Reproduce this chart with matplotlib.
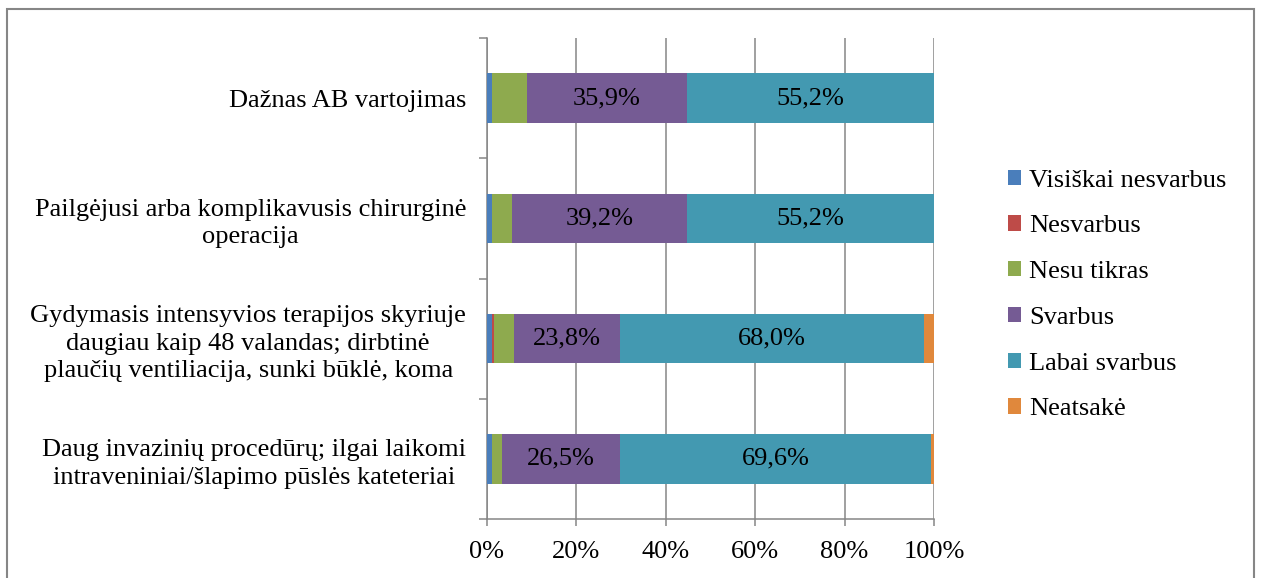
import matplotlib
matplotlib.use("Agg")
import matplotlib.pyplot as plt
from matplotlib.patches import Rectangle
import numpy as np

plt.rcParams['font.family'] = ['Liberation Serif', 'DejaVu Serif']

categories = [
    "Dažnas AB vartojimas",
    "Pailgėjusi arba komplikavusis chirurginė\noperacija",
    "Gydymasis intensyvios terapijos skyriuje\ndaugiau kaip 48 valandas; dirbtinė\nplaučių ventiliacija, sunki būklė, koma",
    "Daug invazinių procedūrų; ilgai laikomi\nintraveniniai/šlapimo pūslės kateteriai",
]
series_names = ["Visiškai nesvarbus", "Nesvarbus", "Nesu tikras", "Svarbus", "Labai svarbus", "Neatsakė"]
visiskai_nesvarbus = [1.1, 1.1, 1.2, 1.1]
nesvarbus = [0.0, 0.0, 0.3, 0.0]
nesu_tikras = [7.8, 4.5, 4.5, 2.2]
svarbus = [35.9, 39.2, 23.8, 26.5]
labai_svarbus = [55.2, 55.2, 68.0, 69.6]
neatsake = [0.0, 0.0, 2.2, 0.6]
xticks = [0, 20, 40, 60, 80, 100]
xticklabels = ["0%", "20%", "40%", "60%", "80%", "100%"]

colors = ["#4A7EBB", "#BE4B48", "#8EAA4E", "#755B94", "#4399B1", "#E0883C"]
series = [visiskai_nesvarbus, nesvarbus, nesu_tikras, svarbus, labai_svarbus, neatsake]
labelled = {3, 4}

fig = plt.figure(figsize=(12.61, 5.78), dpi=100)
ax = fig.add_axes([487/1261, 1 - 519/578, (934-487)/1261, (519-38)/578])

y = np.arange(len(categories))
left = np.zeros(len(categories))
handles = []
for i, (name, vals, c) in enumerate(zip(series_names, series, colors)):
    vals = np.array(vals, dtype=float)
    b = ax.barh(y, vals, left=left, height=0.41, color=c, edgecolor='none', label=name, zorder=3)
    handles.append(b)
    if i in labelled:
        for yi, (l, v) in enumerate(zip(left, vals)):
            ax.text(l + v/2, yi, f"{v:.1f}".replace('.', ',') + "%", ha='center', va='center',
                    fontsize=19, color='black', zorder=4)
    left = left + vals

ax.set_xlim(0, 100)
ax.set_ylim(len(categories) - 0.5, -0.5)
ax.set_xticks(xticks)
ax.set_xticklabels(xticklabels, fontsize=19)
ax.set_yticks(y)
ax.set_yticklabels(categories, fontsize=19, linespacing=1.32, multialignment='center')
ax.set_yticks(np.arange(-0.5, len(categories)), minor=True)
ax.tick_params(axis='y', which='major', length=0, pad=15)
ax.tick_params(axis='y', which='minor', length=6, width=1.1, color='#868686', direction='out')
ax.tick_params(axis='x', which='major', length=5, width=1.1, color='#868686', direction='out', pad=11)

ax.grid(axis='x', color='#868686', linewidth=1.1, zorder=0)
ax.set_axisbelow(True)
for s in ['top', 'right']:
    ax.spines[s].set_visible(False)
for s in ['left', 'bottom']:
    ax.spines[s].set_color('#868686')
    ax.spines[s].set_linewidth(1.1)

fig.legend(handles=handles, labels=series_names, loc='center left',
           bbox_to_anchor=(1008/1261, 1 - 295/578), frameon=False, fontsize=19,
           labelspacing=0.9, handlelength=0.5, handleheight=0.5, handletextpad=0.3,
           borderpad=0, borderaxespad=0)

fig.patches.append(Rectangle((7/1261, -0.05), (1254-7)/1261, 1.05 - 9/578, transform=fig.transFigure,
                             fill=False, edgecolor='#868686', linewidth=1.5))

fig.savefig("out.png", dpi=100)
